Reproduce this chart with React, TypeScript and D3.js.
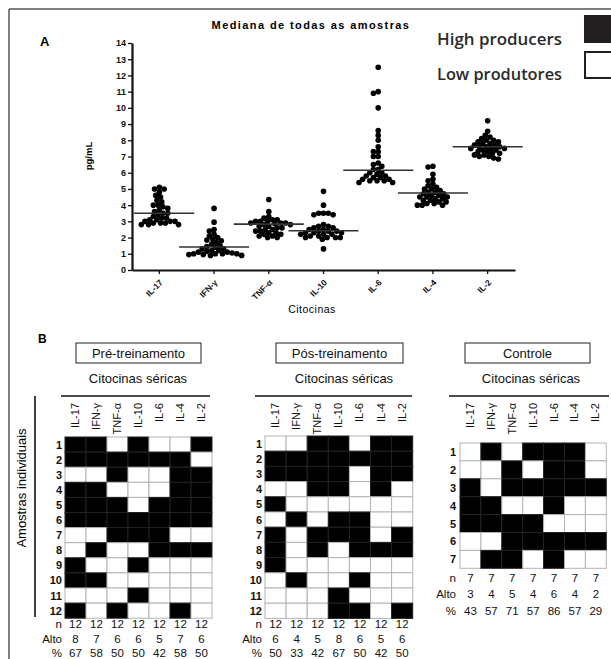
import * as d3 from "d3";
import { useRef, useEffect } from "react";

// cytokines, in the order of both panels
const cytokines = ["IL-17", "IFN-γ", "TNF-α", "IL-10", "IL-6", "IL-4", "IL-2"];

// panel A: pg/mL for every sample (31 each)
const il17 = [5.1, 5.0, 5.0, 4.8, 4.6, 4.5, 4.3, 4.2, 4.0, 4.0, 3.9, 3.8, 3.7, 3.6, 3.5, 3.5, 3.4, 3.3, 3.2, 3.2, 3.1, 3.1, 3.0, 3.0, 3.0, 2.9, 2.9, 2.9, 2.8, 2.8, 2.8];
const ifng = [3.8, 2.95, 2.5, 2.4, 2.2, 2.1, 2.0, 1.9, 1.85, 1.8, 1.7, 1.6, 1.5, 1.45, 1.4, 1.3, 1.3, 1.2, 1.2, 1.15, 1.1, 1.1, 1.05, 1.0, 1.0, 1.0, 1.0, 0.95, 0.95, 0.9, 0.9];
const tnfa = [4.35, 3.6, 3.3, 3.2, 3.1, 3.1, 3.0, 3.0, 3.0, 2.9, 2.9, 2.9, 2.85, 2.8, 2.8, 2.7, 2.7, 2.6, 2.6, 2.5, 2.5, 2.4, 2.4, 2.3, 2.3, 2.2, 2.2, 2.1, 2.1, 2.0, 2.0];
const il10 = [4.85, 4.0, 3.5, 3.5, 3.5, 3.4, 3.4, 2.8, 2.7, 2.7, 2.6, 2.6, 2.5, 2.5, 2.4, 2.4, 2.4, 2.3, 2.3, 2.3, 2.2, 2.2, 2.2, 2.1, 2.1, 2.0, 2.0, 2.0, 2.0, 1.9, 1.3];
const il6 = [12.5, 11.0, 10.9, 10.0, 8.6, 8.3, 8.0, 7.6, 7.3, 7.3, 7.0, 7.0, 6.6, 6.5, 6.4, 6.2, 6.2, 6.0, 6.0, 5.9, 5.8, 5.8, 5.7, 5.7, 5.6, 5.6, 5.5, 5.5, 5.5, 5.4, 5.4];
const il4 = [6.4, 6.35, 5.9, 5.6, 5.5, 5.3, 5.2, 5.1, 5.0, 5.0, 4.9, 4.8, 4.8, 4.7, 4.7, 4.6, 4.6, 4.5, 4.5, 4.5, 4.4, 4.4, 4.3, 4.3, 4.2, 4.2, 4.1, 4.1, 4.0, 4.0, 4.0];
const il2 = [9.2, 8.55, 8.3, 8.2, 8.1, 8.0, 8.0, 7.9, 7.9, 7.8, 7.8, 7.7, 7.7, 7.6, 7.6, 7.6, 7.5, 7.5, 7.5, 7.4, 7.4, 7.3, 7.3, 7.2, 7.2, 7.1, 7.1, 7.0, 7.0, 6.9, 6.85];
const samples = [il17, ifng, tnfa, il10, il6, il4, il2];
const medians = [3.5, 1.42, 2.83, 2.42, 6.15, 4.75, 7.6];
const yTicks = [0, 1, 2, 3, 4, 5, 6, 7, 8, 9, 10, 11, 12, 13, 14];

// panel B: 1 = high producer (black), 0 = low producer (white)
const preRows = [
  [1, 1, 0, 1, 0, 0, 1],
  [1, 1, 1, 1, 1, 1, 0],
  [0, 0, 1, 0, 0, 1, 1],
  [1, 1, 0, 0, 0, 1, 1],
  [1, 1, 1, 0, 1, 1, 1],
  [1, 1, 1, 1, 1, 1, 1],
  [0, 0, 1, 1, 1, 0, 0],
  [0, 1, 0, 0, 1, 1, 1],
  [1, 0, 0, 1, 0, 0, 0],
  [1, 1, 0, 0, 0, 0, 0],
  [0, 0, 0, 1, 0, 0, 0],
  [1, 0, 1, 0, 0, 1, 0],
];
const posRows = [
  [0, 0, 1, 1, 0, 1, 1],
  [1, 1, 1, 1, 1, 1, 1],
  [1, 1, 1, 1, 0, 1, 1],
  [0, 0, 1, 1, 0, 1, 0],
  [1, 0, 0, 0, 0, 0, 0],
  [0, 1, 0, 1, 1, 0, 0],
  [1, 0, 1, 1, 1, 0, 1],
  [1, 0, 1, 0, 1, 1, 1],
  [1, 0, 0, 0, 0, 0, 0],
  [0, 1, 0, 0, 1, 0, 0],
  [0, 0, 0, 1, 0, 0, 0],
  [0, 0, 0, 1, 1, 0, 1],
];
const ctrlRows = [
  [0, 1, 0, 1, 1, 1, 0],
  [0, 0, 1, 0, 1, 1, 0],
  [1, 0, 1, 1, 1, 1, 1],
  [1, 1, 0, 0, 1, 0, 0],
  [1, 1, 1, 1, 0, 0, 0],
  [0, 0, 1, 1, 1, 1, 1],
  [0, 1, 1, 0, 1, 0, 0],
];
const preN = [12, 12, 12, 12, 12, 12, 12];
const preAlto = [8, 7, 6, 6, 5, 7, 6];
const prePct = [67, 58, 50, 50, 42, 58, 50];
const posN = [12, 12, 12, 12, 12, 12, 12];
const posAlto = [6, 4, 5, 8, 6, 5, 6];
const posPct = [50, 33, 42, 67, 50, 42, 50];
const ctrlN = [7, 7, 7, 7, 7, 7, 7];
const ctrlAlto = [3, 4, 5, 4, 6, 4, 2];
const ctrlPct = [43, 57, 71, 57, 86, 57, 29];

const ARIAL = "'Liberation Sans', Arial, sans-serif";

// simple dodge so dots of one column do not pile up on one x
function swarm(values: number[], cx: number, y: (v: number) => number, minD: number) {
  const placed: { x: number; y: number }[] = [];
  const sorted = [...values].sort((a, b) => b - a);
  for (const v of sorted) {
    const py = y(v);
    let px = cx;
    for (let k = 0; k < 60; k++) {
      const off = (k % 2 === 0 ? 1 : -1) * Math.ceil(k / 2) * 1.2;
      if (placed.every(p => Math.hypot(p.x - (cx + off), p.y - py) >= minD)) {
        px = cx + off;
        break;
      }
    }
    placed.push({ x: px, y: py });
  }
  return placed;
}

const DotPlot = () => {
  const xAxisRef = useRef<SVGGElement>(null);
  const yAxisRef = useRef<SVGGElement>(null);

  const x = d3.scaleBand().domain(cytokines).range([132, 515]);
  const y = d3.scaleLinear().domain([0, 14]).range([270, 43]);

  useEffect(() => {
    const ya = d3.select(yAxisRef.current);
    ya.selectAll("*").remove();
    ya.call(d3.axisLeft(y).tickValues(yTicks).tickSize(4).tickSizeOuter(0).tickPadding(2));
    ya.select(".domain").attr("stroke-width", 2.2).attr("stroke", "#111");
    ya.selectAll(".tick line").attr("stroke-width", 1.3).attr("stroke", "#111");
    ya.selectAll(".tick text")
      .style("font-family", ARIAL).style("font-size", "9px").style("font-weight", "bold").attr("fill", "#111");

    const xa = d3.select(xAxisRef.current);
    xa.selectAll("*").remove();
    xa.call(d3.axisBottom(x).tickSize(4).tickSizeOuter(0));
    xa.select(".domain").attr("stroke-width", 2).attr("stroke", "#111");
    xa.selectAll(".tick line").attr("stroke-width", 1.3).attr("stroke", "#111");
    xa.selectAll(".tick text")
      .style("font-family", ARIAL).style("font-size", "8.5px").style("font-weight", "bold").attr("fill", "#111")
      .style("text-anchor", "end")
      .attr("x", 0).attr("y", 0).attr("dx", 0).attr("dy", "0.35em")
      .attr("transform", "translate(2,11) rotate(-45)");
  });

  const half = 35;
  return (
    <g>
      <text x={40} y={46} fontFamily={ARIAL} fontWeight="bold" fontSize={13}>A</text>
      <text x={311} y={29} textAnchor="middle" fontFamily={ARIAL} fontWeight="bold" fontSize={11} letterSpacing={1.4}>
        Mediana de todas as amostras
      </text>
      <text transform="translate(92,156) rotate(-90)" textAnchor="middle" fontFamily={ARIAL} fontWeight="bold" fontSize={9.5}>
        pg/mL
      </text>
      <text x={312} y={313} textAnchor="middle" fontFamily={ARIAL} fontSize={10.5} letterSpacing={0.5}>Citocinas</text>
      {samples.map((vals, i) => {
        const cx = (x(cytokines[i]) ?? 0) + x.bandwidth() / 2;
        return (
          <g key={cytokines[i]}>
            {swarm(vals, cx, y, 4.6).map((p, j) => (
              <circle key={j} cx={p.x} cy={p.y} r={2.8} fill="#000" />
            ))}
            <line x1={Math.max(134, cx - half)} x2={cx + half} y1={y(medians[i])} y2={y(medians[i])}
              stroke="#333" strokeWidth={1.6} />
          </g>
        );
      })}
      <g ref={yAxisRef} transform="translate(132,0)" />
      <g ref={xAxisRef} transform="translate(0,270)" />
    </g>
  );
};

const Legend = () => (
  <g fontFamily="'Open Sans', sans-serif" fontWeight={600} fontSize={15.5} fill="#2a2a2a">
    <text x={437} y={45} textLength={125} lengthAdjust="spacingAndGlyphs">High producers</text>
    <text x={437} y={80} textLength={125} lengthAdjust="spacingAndGlyphs">Low produtores</text>
    <rect x={584} y={15} width={30} height={28} fill="#231f20" />
    <rect x={585} y={52} width={30} height={26} fill="#fff" stroke="#231f20" strokeWidth={2} />
  </g>
);

type PanelProps = {
  title: string;
  rows: number[][];
  n: number[];
  alto: number[];
  pct: number[];
  x0: number;
  cellW: number;
  y0: number;
  cellH: number;
  box: [number, number, number, number];
  subCx: number;
  line: [number, number];
  statsY: [number, number, number];
  labelX: number;
};

const GridPanel = (p: PanelProps) => {
  const x = d3.scaleBand().domain(cytokines).range([p.x0, p.x0 + p.cellW * 7]);
  const rowIds = p.rows.map((_, i) => String(i + 1));
  const y = d3.scaleBand().domain(rowIds).range([p.y0, p.y0 + p.cellH * p.rows.length]);
  const cx = (c: string) => (x(c) ?? 0) + x.bandwidth() / 2;
  const stats: [string, number[]][] = [["n", p.n], ["Alto", p.alto], ["%", p.pct]];
  return (
    <g fontFamily={ARIAL} fill="#111">
      <rect x={p.box[0]} y={p.box[1]} width={p.box[2]} height={p.box[3]} fill="#fff" stroke="#222" strokeWidth={1} />
      <text x={p.box[0] + p.box[2] / 2} y={p.box[1] + 15} textAnchor="middle" fontSize={13}>{p.title}</text>
      <text x={p.subCx} y={383} textAnchor="middle" fontSize={13}>Citocinas séricas</text>
      <line x1={p.line[0]} x2={p.line[1]} y1={396} y2={396} stroke="#111" strokeWidth={1.6} />
      {cytokines.map(c => (
        <text key={c} transform={`translate(${cx(c) + 3.5},403) rotate(-90)`} textAnchor="end" fontSize={11}>{c}</text>
      ))}
      {p.rows.map((row, ri) =>
        row.map((v, ci) => (
          <rect key={`${ri}-${ci}`} x={x(cytokines[ci])} y={y(rowIds[ri])} width={x.bandwidth()} height={y.bandwidth()}
            fill={v ? "#000" : "#fff"} stroke={v ? "#222" : "#b4b4b4"} strokeWidth={1} />
        ))
      )}
      {rowIds.map(r => (
        <text key={r} x={p.labelX} y={(y(r) ?? 0) + y.bandwidth() / 2 + 4} textAnchor="end" fontSize={11} fontWeight="bold">{r}</text>
      ))}
      {stats.map(([lab, vals], si) => (
        <g key={lab}>
          <text x={p.labelX} y={p.statsY[si]} textAnchor="end" fontSize={11.5}>{lab}</text>
          {vals.map((v, ci) => (
            <text key={ci} x={cx(cytokines[ci])} y={p.statsY[si]} textAnchor="middle" fontSize={11.5}>{v}</text>
          ))}
        </g>
      ))}
    </g>
  );
};

export default function App() {
  return (
    <svg width={611} height={659} style={{ position: "absolute", left: 0, top: 0, background: "#fff" }}>
      <rect width={611} height={659} fill="#fff" />
      <line x1={9} x2={611} y1={9} y2={9} stroke="#555" strokeWidth={1.5} />
      <line x1={9} x2={9} y1={9} y2={659} stroke="#555" strokeWidth={1.5} />
      <DotPlot />
      <Legend />
      <text x={38} y={343} fontFamily={ARIAL} fontWeight="bold" fontSize={12}>B</text>
      <line x1={35} x2={35} y1={396} y2={617} stroke="#111" strokeWidth={1.6} />
      <text transform="translate(26,488) rotate(-90)" textAnchor="middle" fontFamily={ARIAL} fontSize={13}>
        Amostras individuais
      </text>
      <GridPanel title="Pré-treinamento" rows={preRows} n={preN} alto={preAlto} pct={prePct}
        x0={65} cellW={21} y0={437} cellH={15.1} box={[76, 343, 125, 20]} subCx={138}
        line={[61, 210]} statsY={[628, 643, 657]} labelX={62} />
      <GridPanel title="Pós-treinamento" rows={posRows} n={posN} alto={posAlto} pct={posPct}
        x0={265} cellW={21.1} y0={436} cellH={15.2} box={[276, 343, 127, 20]} subCx={344}
        line={[255, 412]} statsY={[628, 643, 657]} labelX={262} />
      <GridPanel title="Controle" rows={ctrlRows} n={ctrlN} alto={ctrlAlto} pct={ctrlPct}
        x0={460} cellW={20.9} y0={443} cellH={17.9} box={[465, 343, 125, 20]} subCx={531}
        line={[449, 609]} statsY={[582, 598, 615]} labelX={456} />
    </svg>
  );
}
